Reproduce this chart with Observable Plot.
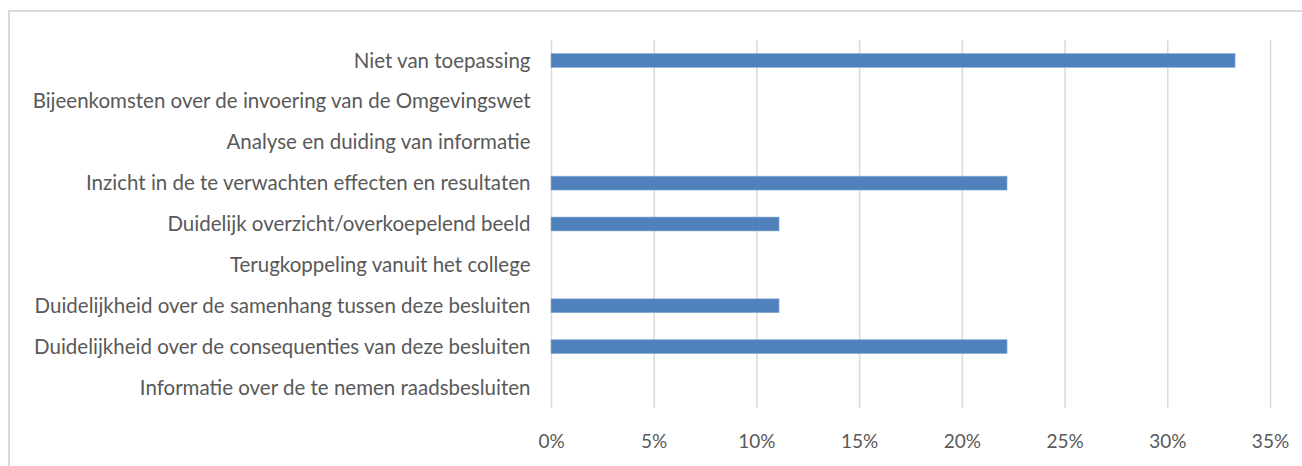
<!DOCTYPE html>
<html>
<head>
<meta charset="utf-8">
<script src="https://cdn.jsdelivr.net/npm/d3@7"></script>
<script src="https://cdn.jsdelivr.net/npm/@observablehq/plot@0.6"></script>
<style>
  html, body { margin: 0; padding: 0; background: #fff; width: 1302px; height: 466px; overflow: hidden; }
  #frame { position: absolute; left: 8px; top: 10px; width: 1400px; height: 600px; border-left: 2px solid #d9d9d9; border-top: 2px solid #d9d9d9; box-sizing: border-box; }
  #chart { position: absolute; left: 0; top: 0; }
</style>
</head>
<body>
<div id="frame"></div>
<div id="chart"></div>
<script>
const categories = [
  "Niet van toepassing",
  "Bijeenkomsten over de invoering van de Omgevingswet",
  "Analyse en duiding van informatie",
  "Inzicht in de te verwachten effecten en resultaten",
  "Duidelijk overzicht/overkoepelend beeld",
  "Terugkoppeling vanuit het college",
  "Duidelijkheid over de samenhang tussen deze besluiten",
  "Duidelijkheid over de consequenties van deze besluiten",
  "Informatie over de te nemen raadsbesluiten"
];
const values = [0.333, 0, 0, 0.222, 0.111, 0, 0.111, 0.222, 0];
const xTicks = [0, 0.05, 0.10, 0.15, 0.20, 0.25, 0.30, 0.35];

const data = categories.map((c, i) => ({category: c, value: values[i]}));
const pct = d => Math.round(d * 100) + "%";

const chart = Plot.plot({
  width: 1302,
  height: 466,
  marginLeft: 551,
  marginRight: 32,
  marginTop: 40,
  marginBottom: 58,
  style: {fontFamily: "Lato, sans-serif", fontSize: "20px", color: "#595959", background: "transparent"},
  x: {domain: [0, 0.35], ticks: xTicks, tickFormat: pct, label: null},
  y: {domain: categories, label: null, paddingInner: 0.66, paddingOuter: 0.33, round: false},
  marks: [
    Plot.gridX(xTicks, {stroke: "#d9d9d9", strokeOpacity: 1, strokeWidth: 1.5}),
    Plot.barX(data, {x: "value", y: "category", fill: "#4f81bd", stroke: "#8eb0d8", strokeWidth: 0.6}),
    Plot.axisX(xTicks, {tickSize: 0, tickPadding: 26, tickFormat: pct, fill: "#595959", fontSize: 19}),
    Plot.axisY({tickSize: 0, tickPadding: 21, fill: "#595959", fontSize: 20.5})
  ]
});
document.getElementById("chart").appendChild(chart);
</script>
</body>
</html>
